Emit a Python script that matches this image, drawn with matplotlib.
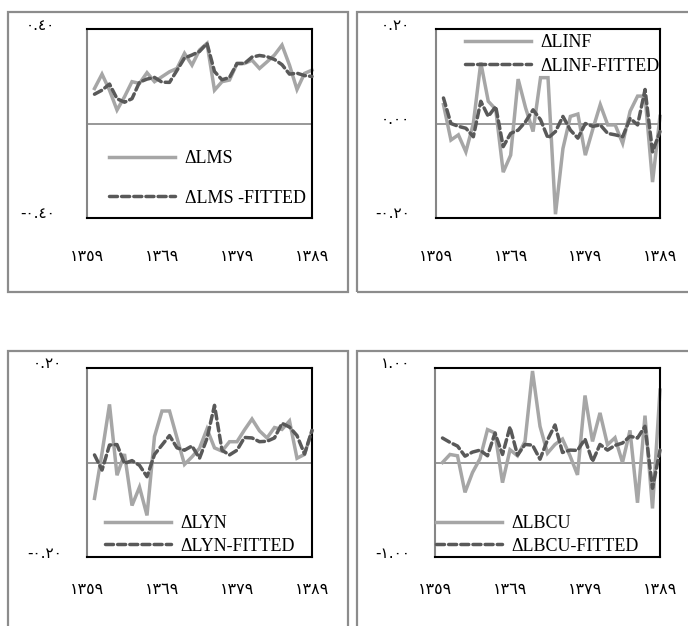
import matplotlib
matplotlib.use('Agg')
import matplotlib.pyplot as plt
from matplotlib.patches import Rectangle

# ---------------- data ----------------
years = list(range(1360, 1390))

lms_actual = [0.148, 0.209, 0.141, 0.057, 0.113, 0.177, 0.170, 0.215, 0.177, 0.198,
              0.219, 0.233, 0.297, 0.247, 0.311, 0.339, 0.141, 0.177, 0.184, 0.254,
              0.254, 0.268, 0.233, 0.261, 0.290, 0.332, 0.247, 0.144, 0.212, 0.226]
lms_fitted = [0.124, 0.141, 0.167, 0.105, 0.090, 0.105, 0.175, 0.188, 0.195, 0.175,
              0.174, 0.225, 0.277, 0.290, 0.305, 0.339, 0.220, 0.185, 0.195, 0.254,
              0.254, 0.281, 0.288, 0.283, 0.271, 0.249, 0.209, 0.213, 0.203, 0.199]

inf_actual = [0.040, -0.035, -0.024, -0.060, 0.000, 0.129, 0.047, 0.030, -0.103, -0.067,
              0.094, 0.033, -0.017, 0.097, 0.097, -0.192, -0.053, 0.015, 0.020, -0.067,
              -0.012, 0.040, -0.003, -0.003, -0.042, 0.026, 0.058, 0.058, -0.124, 0.015]
inf_fitted = [0.054, 0.000, -0.006, -0.010, -0.028, 0.047, 0.015, 0.036, -0.049, -0.021,
              -0.014, 0.004, 0.029, 0.008, -0.031, -0.017, 0.015, -0.014, -0.031, 0.000,
              -0.006, -0.003, -0.021, -0.024, -0.028, 0.011, -0.003, 0.072, -0.060, -0.017]

lyn_actual = [-0.076, 0.020, 0.123, -0.027, 0.018, -0.091, -0.052, -0.112, 0.055, 0.109,
              0.109, 0.052, -0.004, 0.012, 0.030, 0.071, 0.031, 0.024, 0.044, 0.044,
              0.069, 0.092, 0.067, 0.052, 0.074, 0.070, 0.088, 0.009, 0.017, 0.067]
lyn_fitted = [0.016, -0.016, 0.037, 0.038, -0.002, 0.004, -0.006, -0.030, 0.017, 0.037,
              0.057, 0.031, 0.026, 0.035, 0.009, 0.051, 0.121, 0.026, 0.016, 0.026,
              0.053, 0.052, 0.044, 0.045, 0.052, 0.083, 0.075, 0.057, 0.018, 0.068]

bcu_actual = [0.000, 0.085, 0.071, -0.316, -0.106, 0.040, 0.348, 0.312, -0.213, 0.135,
              0.071, 0.223, 0.968, 0.383, 0.099, 0.191, 0.248, 0.071, -0.131, 0.709,
              0.223, 0.525, 0.188, 0.262, 0.000, 0.340, -0.426, 0.496, -0.486, 0.766]
bcu_fitted = [0.259, 0.213, 0.174, 0.067, 0.110, 0.131, 0.071, 0.312, 0.085, 0.376,
              0.078, 0.191, 0.184, 0.035, 0.238, 0.397, 0.106, 0.131, 0.128, 0.248,
              0.011, 0.191, 0.131, 0.181, 0.206, 0.277, 0.259, 0.383, -0.273, 0.131]

x_ticks = [1359, 1369, 1379, 1389]
x_tick_labels = ['١٣٥٩', '١٣٦٩', '١٣٧٩', '١٣٨٩']

series_names = [('ΔLMS', 'ΔLMS -FITTED'), ('ΔLINF', 'ΔLINF-FITTED'),
                ('ΔLYN', 'ΔLYN-FITTED'), ('ΔLBCU', 'ΔLBCU-FITTED')]
y_ticks = [[-0.4, 0.4], [-0.2, 0.0, 0.2], [-0.2, 0.2], [-1.0, 1.0]]
y_tick_labels = [['-٠.٤٠', '٠.٤٠'], ['-٠.٢٠', '٠.٠٠', '٠.٢٠'],
                 ['-٠.٢٠', '٠.٢٠'], ['-١.٠٠', '١.٠٠']]
actuals = [lms_actual, inf_actual, lyn_actual, bcu_actual]
fitteds = [lms_fitted, inf_fitted, lyn_fitted, bcu_fitted]

# ---------------- layout ----------------
W, H = 688, 626
fig = plt.figure(figsize=(W / 100, H / 100), dpi=100)


def fx(px):
    return px / W


def fy(py):
    return 1 - py / H


# outer frames (left, top, right, bottom) in px
frames = [(8, 12, 348, 292), (357, 12, 720, 292), (8, 351, 348, 660), (357, 351, 720, 660)]
for l, t, r, b in frames:
    fig.add_artist(Rectangle((fx(l), fy(b)), fx(r) - fx(l), fy(t) - fy(b),
                             transform=fig.transFigure, fill=False,
                             edgecolor='#8c8c8c', linewidth=1.6))

axes_px = [(87, 29, 312, 218), (436, 29, 660, 218), (87, 368, 312, 557), (435, 368, 660, 557)]
ylab_gap = [32, 26, 25, 25]
xlab_pad = [22, 22, 18, 18]
legend_anchor = [(109, 178.5), (465, 54.5), (105, 535), (436, 535)]
legend_spacing = [1.23, 0.34, 0.29, 0.29]

GRAY = '#a6a6a6'
DARK = '#595959'
DIGIT_FONT = ['DejaVu Sans']
SERIF = ['Liberation Serif', 'DejaVu Serif']

for k in range(4):
    l, t, r, b = axes_px[k]
    ax = fig.add_axes([fx(l), fy(b), fx(r) - fx(l), fy(t) - fy(b)])
    ylo, yhi = min(y_ticks[k]), max(y_ticks[k])
    ax.set_xlim(1359, 1389)
    ax.set_ylim(ylo, yhi)
    ax.axhline(0, color='#868686', lw=1.2, zorder=1)
    la, = ax.plot(years, actuals[k], color=GRAY, lw=2.5, solid_joinstyle='miter',
                  zorder=2, clip_on=False)
    lf, = ax.plot(years, fitteds[k], color=DARK, lw=2.5, linestyle=(0, (2.3, 1.2)),
                  dash_capstyle='round', zorder=3, clip_on=False)
    for side in ['top', 'right', 'bottom']:
        ax.spines[side].set_color('black')
        ax.spines[side].set_linewidth(1.5)
    ax.spines['left'].set_color('#868686')
    ax.spines['left'].set_linewidth(1.5)
    ax.set_yticks([])
    ax.set_xticks(x_ticks)
    ax.set_xticklabels(x_tick_labels, fontfamily=DIGIT_FONT, fontsize=11.5)
    ax.tick_params(axis='x', length=0, pad=xlab_pad[k])
    for v, s in zip(y_ticks[k], y_tick_labels[k]):
        ax.annotate(s, xy=(0, v), xycoords=('axes fraction', 'data'),
                    xytext=(-ylab_gap[k], 4), textcoords='offset pixels',
                    ha='right', va='center', fontfamily=DIGIT_FONT, fontsize=11)
    ax.set_facecolor('none')
    lx, ly = legend_anchor[k]
    ax.legend([la, lf], list(series_names[k]), loc='center left',
              bbox_to_anchor=(fx(lx), fy(ly)), bbox_transform=fig.transFigure,
              frameon=False, borderpad=0, borderaxespad=0,
              handlelength=3.65, handletextpad=0.55,
              labelspacing=legend_spacing[k],
              prop={'family': SERIF, 'size': 13})

fig.savefig('out.png', dpi=100)
